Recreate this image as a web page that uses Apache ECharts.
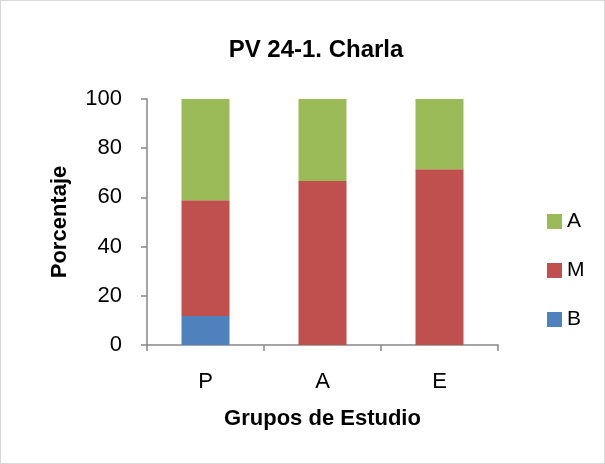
<!DOCTYPE html>
<html>
<head>
<meta charset="utf-8">
<script src="https://cdn.jsdelivr.net/npm/echarts@6/dist/echarts.min.js"></script>
<style>
  html, body { margin: 0; padding: 0; background: #fff; }
  #chart { width: 603px; height: 462px; border: 1px solid #d9d9d9; }
</style>
</head>
<body>
<div id="chart"></div>
<script>
const categories = ["P", "A", "E"];
const valuesB = [11.8, 0, 0];
const valuesM = [47.0, 66.7, 71.4];
const valuesA = [41.2, 33.3, 28.6];
const yTicks = [0, 20, 40, 60, 80, 100];

const chart = echarts.init(document.getElementById("chart"));
const font = "Liberation Sans, Arial, sans-serif";

const option = {
  textStyle: { fontFamily: font },
  title: {
    text: "PV 24-1. Charla",
    left: 310,
    textAlign: "center",
    top: 32,
    textStyle: { fontSize: 24, fontWeight: "bold", color: "#000", fontFamily: font },
  },
  legend: {
    data: ["A", "M", "B"],
    orient: "vertical",
    left: 541,
    top: 205,
    itemWidth: 15,
    itemHeight: 15,
    itemGap: 28,
    icon: "rect",
    textStyle: { fontSize: 21, color: "#000", fontFamily: font },
  },
  grid: { left: 146, right: 106, top: 98, bottom: 118 },
  xAxis: {
    type: "category",
    data: categories,
    name: "Grupos de Estudio",
    nameLocation: "middle",
    nameGap: 63,
    nameTextStyle: { fontSize: 22, fontWeight: "bold", color: "#000" },
    axisLine: { lineStyle: { color: "#868686", width: 1.5 } },
    axisTick: { show: true, length: 6, lineStyle: { color: "#868686", width: 1.5 } },
    axisLabel: { fontSize: 22, color: "#000", margin: 26 },
  },
  yAxis: {
    type: "value",
    min: yTicks[0],
    max: yTicks[yTicks.length - 1],
    interval: 20,
    name: "Porcentaje",
    nameLocation: "middle",
    nameGap: 76,
    nameTextStyle: { fontSize: 22, fontWeight: "bold", color: "#000" },
    axisLine: { show: true, lineStyle: { color: "#868686", width: 1.5 } },
    axisTick: { show: true, length: 6, lineStyle: { color: "#868686", width: 1.5 } },
    splitLine: { show: false },
    axisLabel: { fontSize: 22, color: "#000", margin: 25 },
  },
  series: [
    { name: "B", type: "bar", stack: "one", data: valuesB, barWidth: 48, color: "#4f81bd" },
    { name: "M", type: "bar", stack: "one", data: valuesM, barWidth: 48, color: "#c0504d" },
    { name: "A", type: "bar", stack: "one", data: valuesA, barWidth: 48, color: "#9bbb59" },
  ],
};

chart.setOption(option);
</script>
</body>
</html>
